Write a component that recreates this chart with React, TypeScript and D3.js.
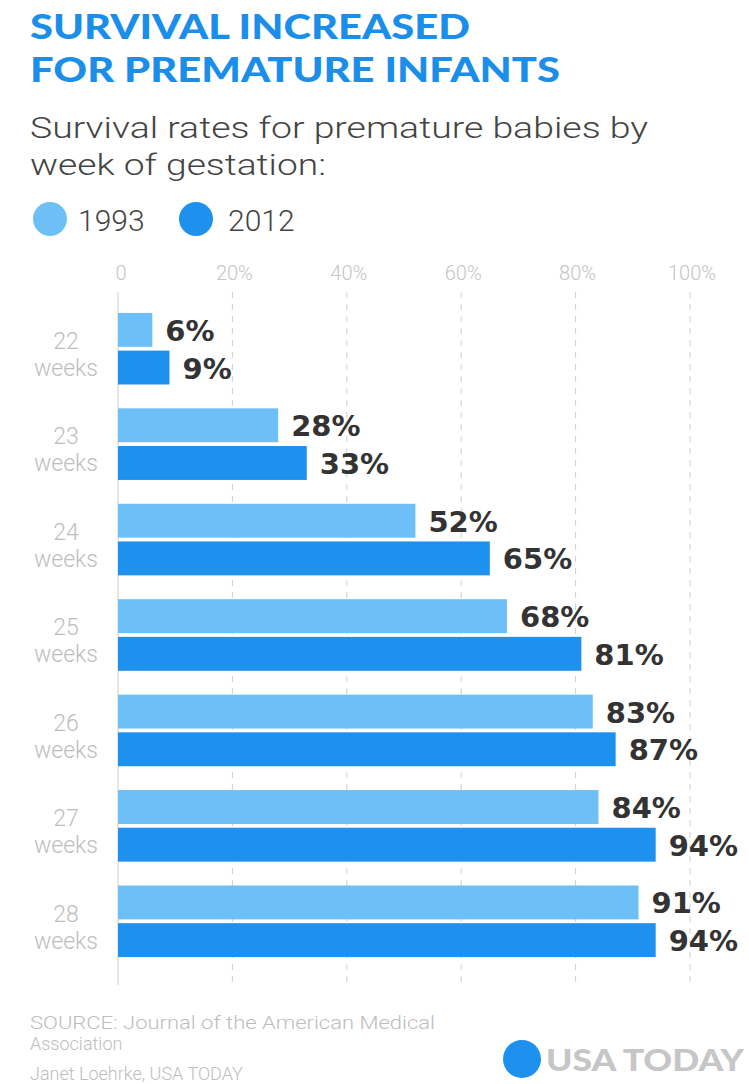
import React from "react";
import * as d3 from "d3";

const weeks = ["22", "23", "24", "25", "26", "27", "28"];
const series = ["1993", "2012"];
const values1993 = [6, 28, 52, 68, 83, 84, 91];
const values2012 = [9, 33, 65, 81, 87, 94, 94];
const ticks = [0, 20, 40, 60, 80, 100];
const colors = ["#6dc0f7", "#1e90ee"];

const W = 749;
const H = 1084;

export default function App() {
  const x = d3.scaleLinear().domain([0, 100]).range([118, 690]);
  const y = d3.scaleBand<string>().domain(weeks).range([301, 969]).paddingInner(0.25).paddingOuter(0.125);
  const ys = d3.scaleBand<string>().domain(series).range([0, y.bandwidth()]).paddingInner(0.1);
  const data = [values1993, values2012];
  const grayFont = "Roboto, 'Liberation Sans', sans-serif";
  const boldFont = "Lato, 'Open Sans', sans-serif";
  const valueFont = "'DejaVu Sans', Lato, sans-serif";

  return (
    <svg width={W} height={H} style={{ position: "absolute", left: 0, top: 0, background: "#fff" }}>
      <rect width={W} height={H} fill="#fff" />
      {/* Title */}
      <text x={30} y={39} fill="#1a8ee8" fontFamily={boldFont} fontWeight={900} fontSize={35} textLength={440} lengthAdjust="spacingAndGlyphs">SURVIVAL INCREASED</text>
      <text x={30} y={82} fill="#1a8ee8" fontFamily={boldFont} fontWeight={900} fontSize={35} textLength={530} lengthAdjust="spacingAndGlyphs">FOR PREMATURE INFANTS</text>
      {/* Subtitle */}
      <text x={30} y={138} fill="#444" fontFamily={grayFont} fontWeight={300} fontSize={30} textLength={618} lengthAdjust="spacingAndGlyphs">Survival rates for premature babies by</text>
      <text x={30} y={175} fill="#444" fontFamily={grayFont} fontWeight={300} fontSize={30} textLength={296} lengthAdjust="spacingAndGlyphs">week of gestation:</text>
      {/* Legend */}
      {series.map((s, i) => (
        <g key={s}>
          <circle cx={50 + i * 146} cy={219} r={17} fill={colors[i]} />
          <text x={78 + i * 150} y={231} fill="#444" fontFamily={grayFont} fontWeight={300} fontSize={30}>{s}</text>
        </g>
      ))}
      {/* Axis ticks and gridlines */}
      {ticks.map((t) => (
        <g key={t}>
          <text x={x(t) + (t === 0 ? 3 : 2)} y={280} textAnchor="middle" fill="#c4c4c4" fontFamily={grayFont} fontWeight={300} fontSize={20}>
            {t === 0 ? "0" : `${t}%`}
          </text>
          <line x1={x(t)} x2={x(t)} y1={292} y2={985} stroke={t === 0 ? "#e6ddd2" : "#cfcfcf"} strokeWidth={t === 0 ? 1.5 : 1} strokeDasharray={t === 0 ? undefined : "6,6"} />
        </g>
      ))}
      {/* Bars */}
      {weeks.map((w, gi) => {
        const gy = y(w)!;
        return (
          <g key={w}>
            <text x={66} y={gy + 36} textAnchor="middle" fill="#bdbdbd" fontFamily={grayFont} fontWeight={300} fontSize={23}>{w}</text>
            <text x={66} y={gy + 63} textAnchor="middle" fill="#bdbdbd" fontFamily={grayFont} fontWeight={300} fontSize={23}>weeks</text>
            {series.map((s, si) => {
              const v = data[si][gi];
              const by = gy + ys(s)!;
              const bh = ys.bandwidth();
              return (
                <g key={s}>
                  <rect x={x(0)} y={by} width={x(v) - x(0)} height={bh} fill={colors[si]} />
                  <text x={x(v) + 13} y={by + bh / 2 + 11} fill="#333" fontFamily={valueFont} fontWeight={700} fontSize={29}>{`${v}%`}</text>
                </g>
              );
            })}
          </g>
        );
      })}
      {/* Footer */}
      <text x={30} y={1029} fill="#bdbdbd" fontFamily={grayFont} fontWeight={300} fontSize={18} textLength={405} lengthAdjust="spacingAndGlyphs">SOURCE: Journal of the American Medical</text>
      <text x={30} y={1050} fill="#bdbdbd" fontFamily={grayFont} fontWeight={300} fontSize={18}>Association</text>
      <text x={30} y={1080} fill="#bdbdbd" fontFamily={grayFont} fontWeight={300} fontSize={18}>Janet Loehrke, USA TODAY</text>
      <circle cx={522} cy={1059} r={19} fill="#1e90ee" />
      <text x={546} y={1071} fill="#c6c6c6" fontFamily={boldFont} fontWeight={900} fontSize={31} textLength={198} lengthAdjust="spacingAndGlyphs">USA TODAY</text>
    </svg>
  );
}
